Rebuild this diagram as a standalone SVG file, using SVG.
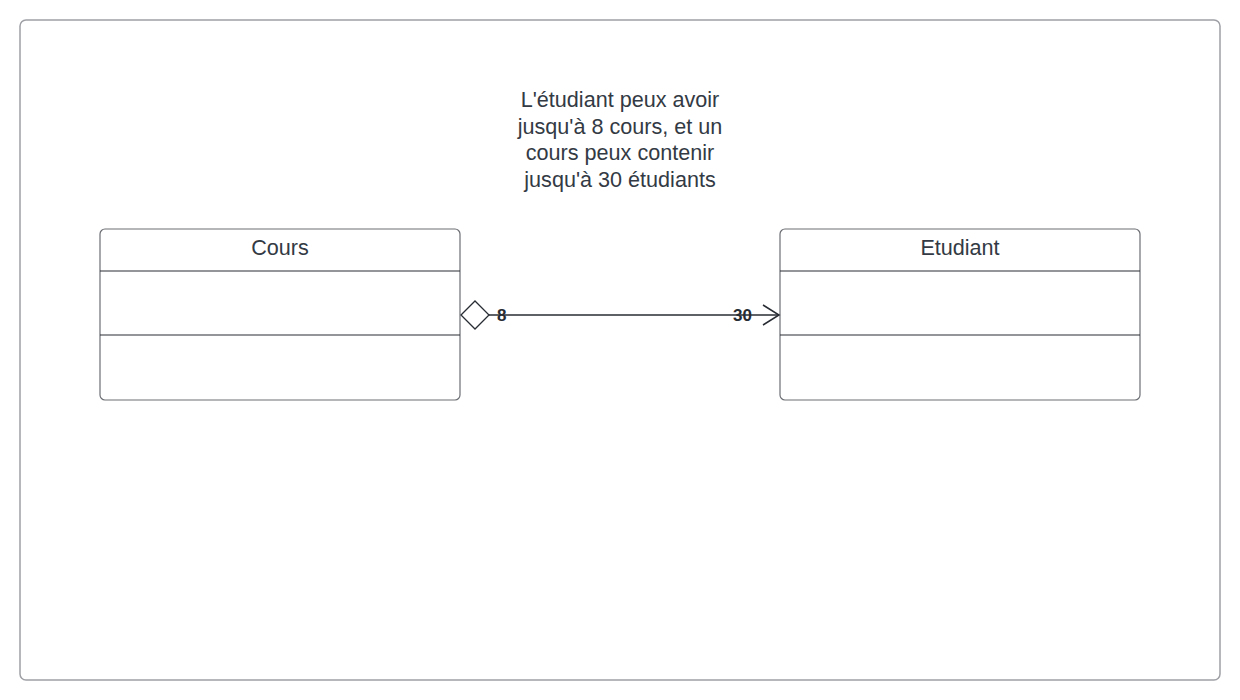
<svg xmlns="http://www.w3.org/2000/svg" width="1240" height="700" viewBox="0 0 1240 700">
<style>
.frame{fill:#ffffff;stroke:#9ea0a5;stroke-width:1.5}
.box{fill:#ffffff;stroke:#6b6e73;stroke-width:1.2}
.div{stroke:#282c33;stroke-width:1.2}
.t{font-family:"Liberation Sans",Arial,sans-serif;font-size:21.6px;fill:#333a44;text-anchor:middle}
.m{font-family:"Liberation Sans",Arial,sans-serif;font-size:17px;font-weight:bold;fill:#282c33}
.c{stroke:#282c33;stroke-width:1.5;fill:none}
</style>
<rect x="0" y="0" width="1240" height="700" fill="#ffffff"/>
<rect class="frame" x="20" y="20" width="1200" height="660" rx="6"/>
<g id="note">
<text class="t" x="620" y="107">L'étudiant peux avoir</text>
<text class="t" x="620" y="134">jusqu'à 8 cours, et un</text>
<text class="t" x="620" y="160">cours peux contenir</text>
<text class="t" x="620" y="187">jusqu'à 30 étudiants</text>
</g>
<g id="cours">
<rect class="box" x="100" y="229" width="360" height="171" rx="5"/>
<line class="div" x1="100" y1="271" x2="460" y2="271"/>
<line class="div" x1="100" y1="335" x2="460" y2="335"/>
<text class="t" x="280" y="255">Cours</text>
</g>
<g id="etudiant">
<rect class="box" x="780" y="229" width="360" height="171" rx="5"/>
<line class="div" x1="780" y1="271" x2="1140" y2="271"/>
<line class="div" x1="780" y1="335" x2="1140" y2="335"/>
<text class="t" x="960" y="255">Etudiant</text>
</g>
<g id="connectors">
<polygon points="461,315 475,301 489,315 475,329" fill="#ffffff" stroke="#282c33" stroke-width="1.3"/>
<line class="c" x1="489" y1="315" x2="779" y2="315"/>
<polyline class="c" points="763,305 779,315 763,325"/>
<text class="m" x="497" y="321">8</text>
<text class="m" x="733" y="321">30</text>
</g>
</svg>
